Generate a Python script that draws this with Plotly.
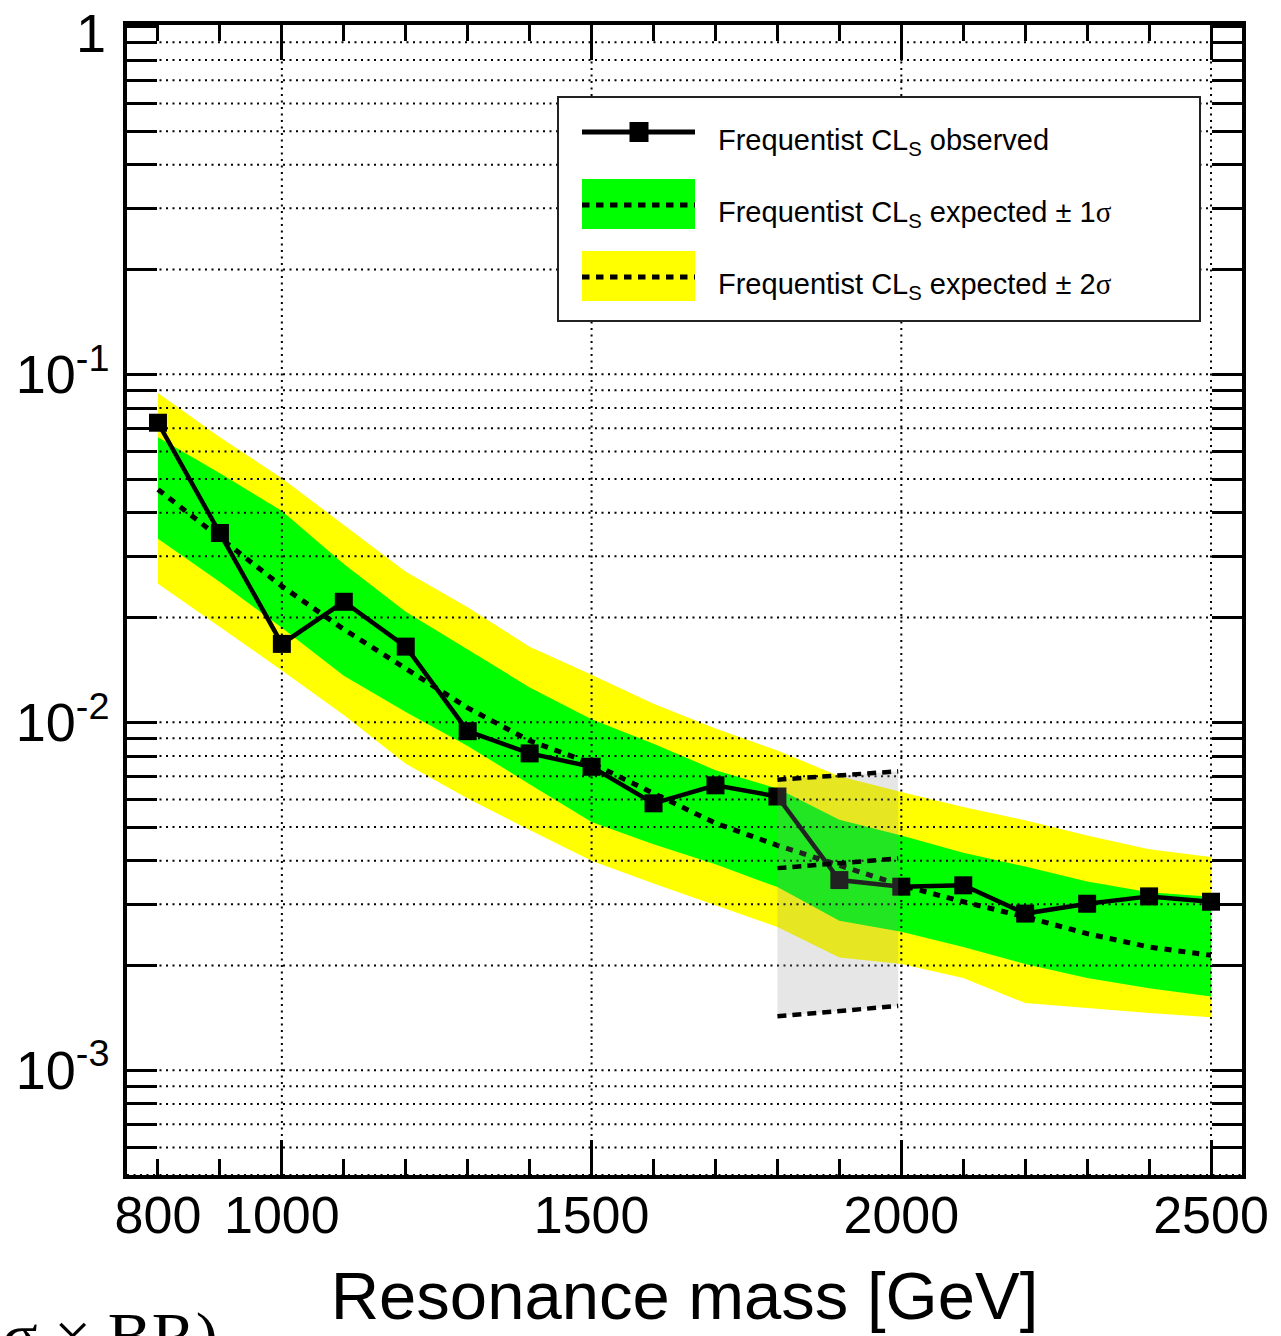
import math
import plotly.graph_objects as go

# ---------------------------------------------------------------- data
mass = [800, 900, 1000, 1100, 1200, 1300, 1400, 1500, 1600,
        1700, 1800, 1900, 2000, 2100, 2200, 2300, 2400, 2500]

observed = [0.0726, 0.0350, 0.0168, 0.0222, 0.0165, 0.00943, 0.00814, 0.00745, 0.00585,
            0.00659, 0.00612, 0.00352, 0.00337, 0.00340, 0.00282, 0.00301, 0.00316, 0.00305]

expected = [0.0467, 0.0338, 0.0246, 0.0185, 0.0143, 0.0110, 0.00885, 0.00762, 0.00625,
            0.00513, 0.00443, 0.00388, 0.00340, 0.00305, 0.00276, 0.00247, 0.00226, 0.00214]

exp_plus1 = [0.0660, 0.0520, 0.0405, 0.0285, 0.0208, 0.0162, 0.0126, 0.0102, 0.00868,
             0.00728, 0.00645, 0.00525, 0.00473, 0.00422, 0.00385, 0.00349, 0.00325, 0.00315]
exp_minus1 = [0.0337, 0.0253, 0.0187, 0.0136, 0.0107, 0.00855, 0.00664, 0.00517, 0.00446,
              0.00391, 0.00336, 0.00269, 0.00250, 0.00226, 0.00202, 0.00184, 0.00172, 0.00163]
exp_plus2 = [0.0884, 0.0660, 0.0503, 0.0370, 0.0271, 0.0214, 0.0165, 0.0137, 0.0113,
             0.00960, 0.00830, 0.00700, 0.00630, 0.00571, 0.00523, 0.00473, 0.00432, 0.00410]
exp_minus2 = [0.0250, 0.0188, 0.0141, 0.0105, 0.00760, 0.00604, 0.00490, 0.00400, 0.00344,
              0.00298, 0.00258, 0.00211, 0.00202, 0.00184, 0.00156, 0.00151, 0.00146, 0.00142]

# shaded window between 1800 and 2000 GeV with its dashed guide lines
window_mass = [1800, 1995]
window_high = [0.00684, 0.00723]
window_mid = [0.00381, 0.00406]
window_low = [0.00143, 0.00153]

# axes
x_range = [750, 2550]
y_range = [5e-4, 1.0]
x_label_vals = [800, 1000, 1500, 2000, 2500]
x_label_text = ["800", "1000", "1500", "2000", "2500"]
x_major_vals = [1000, 1500, 2000, 2500]
y_major_vals = [1e-3, 1e-2, 1e-1, 1.0]
y_major_text = ["10<sup>-3</sup>", "10<sup>-2</sup>", "10<sup>-1</sup>", ""]
y_top_label = "1"
y_minor_vals = [m * 10.0 ** e for e in (-4, -3, -2, -1) for m in range(2, 10)
                if y_range[0] <= m * 10.0 ** e < y_range[1]]

SANS = "Liberation Sans, Arial, Helvetica, sans-serif"
SERIF = "Liberation Serif, Times New Roman, serif"

YELLOW = "#ffff00"
GREEN = "#00ff00"

fig = go.Figure()

# +-2 sigma and +-1 sigma bands
fig.add_trace(go.Scatter(
    x=mass + mass[::-1], y=exp_plus2 + exp_minus2[::-1],
    fill="toself", fillcolor=YELLOW, line=dict(width=0), mode="lines",
    hoverinfo="skip", name="expected ± 2σ"))
fig.add_trace(go.Scatter(
    x=mass + mass[::-1], y=exp_plus1 + exp_minus1[::-1],
    fill="toself", fillcolor=GREEN, line=dict(width=0), mode="lines",
    hoverinfo="skip", name="expected ± 1σ"))

# median expected
fig.add_trace(go.Scatter(
    x=mass, y=expected, mode="lines",
    line=dict(color="black", width=5, dash="7px,7px"), name="expected"))

# observed
fig.add_trace(go.Scatter(
    x=mass, y=observed, mode="lines+markers",
    line=dict(color="black", width=4.5),
    marker=dict(symbol="square", size=18, color="black"), name="observed"))

# dotted grid drawn over the bands
GRID = dict(color="black", width=2, dash="2px,4.5px")
hx, hy = [], []
for v in y_major_vals[:-1] + y_minor_vals:
    hx += [x_range[0], x_range[1], None]
    hy += [v, v, None]
fig.add_trace(go.Scatter(x=hx, y=hy, mode="lines", line=GRID, hoverinfo="skip",
                         connectgaps=False, name="grid"))
vx, vy = [], []
for v in x_major_vals:
    vx += [v, v, None]
    vy += [y_range[0], y_range[1], None]
fig.add_trace(go.Scatter(x=vx, y=vy, mode="lines", line=GRID, hoverinfo="skip",
                         connectgaps=False, name="grid"))

# grey window and its dashed lines (overlay axis)
fig.add_trace(go.Scatter(
    x=window_mass + window_mass[::-1], y=window_high + window_low[::-1],
    fill="toself", fillcolor="rgba(147,147,147,0.23)", line=dict(width=0),
    mode="lines", hoverinfo="skip", xaxis="x2", name="window"))
for band in (window_high, window_mid, window_low):
    fig.add_trace(go.Scatter(
        x=window_mass, y=band, mode="lines", xaxis="x2",
        line=dict(color="black", width=4.5, dash="9px,6px"), hoverinfo="skip"))

# ---------------------------------------------------------------- layout
L, R, T, B = 127, 39, 25, 161
W, H = 1281, 1336
PW, PH = W - L - R, H - T - B


def px(xp):
    return (xp - L) / PW


def py(yp):
    return (T + PH - yp) / PH


fig.update_layout(
    template="none",
    width=W, height=H, margin=dict(l=L, r=R, t=T, b=B, pad=0, autoexpand=False),
    paper_bgcolor="white", plot_bgcolor="white", showlegend=False,
    xaxis=dict(
        range=x_range, automargin=False,
        showline=True, linewidth=3.5, linecolor="black",
        mirror="allticks", showgrid=False, zeroline=False,
        tickmode="array", tickvals=x_label_vals, ticktext=x_label_text,
        ticks="", tickfont=dict(family=SANS, size=52, color="black"),
        ticklabelstandoff=-8, ticklabeloverflow="allow",
        minor=dict(tick0=0, dtick=100, ticks="inside", ticklen=16, tickwidth=2.5,
                   tickcolor="black", showgrid=False),
        title=dict(text="Resonance mass [GeV]", standoff=30,
                   font=dict(family=SANS, size=67, color="black")),
    ),
    xaxis2=dict(
        range=x_range, overlaying="x", anchor="y", side="bottom", automargin=False,
        showline=True, linewidth=3.5, linecolor="black", mirror="ticks",
        showgrid=False, zeroline=False, showticklabels=False,
        tickmode="array", tickvals=x_major_vals,
        ticks="inside", ticklen=35, tickwidth=2.5, tickcolor="black",
    ),
    yaxis=dict(
        type="log", range=[math.log10(y_range[0]), math.log10(y_range[1]) + 0.004],
        automargin=False,
        showline=True, linewidth=3.5, linecolor="black", mirror="allticks",
        showgrid=False, zeroline=False,
        tickmode="array", tickvals=y_major_vals, ticktext=y_major_text,
        ticks="inside", ticklen=30, tickwidth=2.5, tickcolor="black",
        tickfont=dict(family=SANS, size=54, color="black"),
        ticklabelstandoff=3, ticklabeloverflow="allow",
        minor=dict(tickmode="array", tickvals=y_minor_vals, ticks="inside",
                   ticklen=15, tickwidth=2.5, tickcolor="black", showgrid=False),
    ),
)

# ---------------------------------------------------------------- legend box
shapes = []
shapes.append(dict(type="rect", xref="paper", yref="paper", layer="above",
                   x0=px(558), x1=px(1200), y0=py(321), y1=py(97),
                   fillcolor="white", line=dict(color="#222222", width=2)))
# observed entry
shapes.append(dict(type="line", xref="paper", yref="paper", layer="above",
                   x0=px(582), x1=px(695), y0=py(132), y1=py(132),
                   line=dict(color="black", width=5)))
shapes.append(dict(type="rect", xref="paper", yref="paper", layer="above",
                   x0=px(629.5), x1=px(648.5), y0=py(142), y1=py(122),
                   fillcolor="black", line=dict(width=0)))
# band entries
for top, bot, mid, col in ((179, 229, 205, GREEN), (251, 301, 277, YELLOW)):
    shapes.append(dict(type="rect", xref="paper", yref="paper", layer="above",
                       x0=px(582), x1=px(695), y0=py(bot), y1=py(top),
                       fillcolor=col, line=dict(width=0)))
    shapes.append(dict(type="line", xref="paper", yref="paper", layer="above",
                       x0=px(582), x1=px(695), y0=py(mid), y1=py(mid),
                       line=dict(color="black", width=5, dash="7.5px,6.5px")))
fig.update_layout(shapes=shapes)

SIG = '<span style="font-family:Liberation Serif, serif">σ</span>'
legend_rows = [
    ("Frequentist CL<sub>S</sub> observed", 142),
    ("Frequentist CL<sub>S</sub> expected ± 1" + SIG, 214),
    ("Frequentist CL<sub>S</sub> expected ± 2" + SIG, 286),
]
annotations = []
for text, yc in legend_rows:
    annotations.append(dict(
        text=text, xref="paper", yref="paper", x=px(716), y=py(yc),
        xanchor="left", yanchor="middle", showarrow=False,
        font=dict(family=SANS, size=29, color="black")))

# label of the top decade, set a little below the frame edge
annotations.append(dict(
    text=y_top_label, xref="paper", yref="paper", x=px(108), y=py(33),
    xanchor="right", yanchor="middle", showarrow=False,
    font=dict(family=SANS, size=54, color="black")))

annotations.append(dict(
    text="σ × BR)", xref="paper", yref="paper", x=px(0), y=py(1297),
    xanchor="left", yanchor="top", showarrow=False,
    font=dict(family=SERIF, size=66, color="black")))

fig.update_layout(annotations=annotations)

fig.write_html("out.html")
